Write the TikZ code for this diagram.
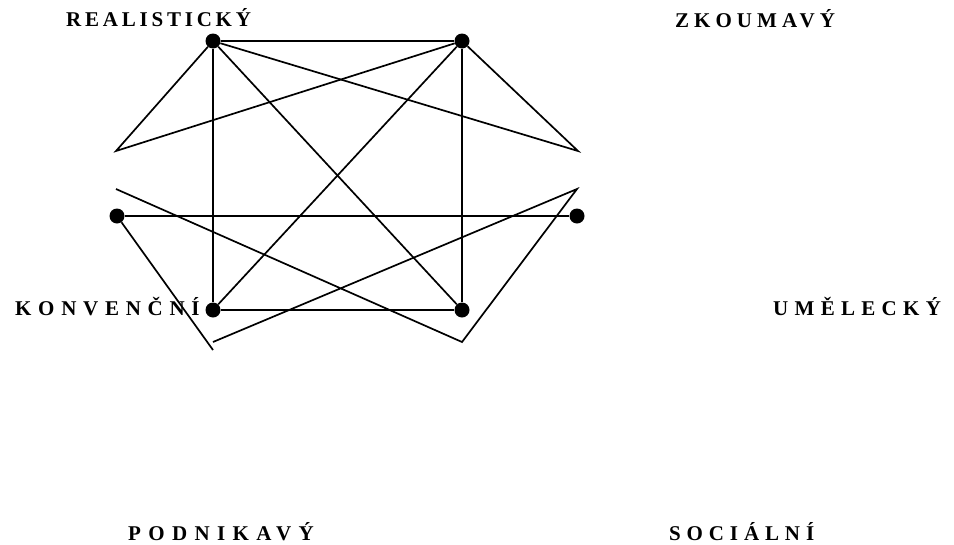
\documentclass[tikz,border=0pt]{standalone}
\usepackage{fontspec}
\setmainfont{Liberation Serif}
\usetikzlibrary{positioning}

\begin{document}
\begin{tikzpicture}[x=1pt, y=-1pt,
    dot/.style={circle, fill=black, inner sep=0pt, minimum size=15pt},
    link/.style={line width=1.7pt},
    typ/.style={font={\fontsize{21}{25}\selectfont\bfseries\addfontfeature{LetterSpace=#1}}, inner sep=0pt, anchor=base west}
]
    \useasboundingbox (0,0) rectangle (954,544);

    % personality types
    \node[typ=18] (real) at (66,26) {REALISTICKÝ};
    \node[typ=24] (zkou) at (675,27) {ZKOUMAVÝ};
    \node[typ=32] (konv) at (15,315) {KONVENČNÍ};
    \node[typ=30] (umel) at (773,315) {UMĚLECKÝ};
    \node[typ=35] (podn) at (128,540) {PODNIKAVÝ};
    \node[typ=28] (soci) at (669,540) {SOCIÁLNÍ};

    % points of the hexagon
    \node[dot] (a) at (213,41) {};
    \node[dot] (b) at (462,41) {};
    \node[dot] (l) at (117,216) {};
    \node[dot] (r) at (577,216) {};
    \node[dot] (c) at (213,310) {};
    \node[dot] (d) at (462,310) {};

    % loose ends
    \coordinate (p1) at (116,151);
    \coordinate (p2) at (578,151);
    \coordinate (p3) at (116,189);
    \coordinate (p4) at (462,342);
    \coordinate (p5) at (577,189);
    \coordinate (p6) at (213,342);
    \coordinate (p7) at (213,350);

    % box and diagonals
    \draw[link] (a) -- (b);
    \draw[link] (a) -- (c);
    \draw[link] (b) -- (d);
    \draw[link] (c) -- (d);
    \draw[link] (a) -- (d);
    \draw[link] (b) -- (c);
    \draw[link] (l) -- (r);

    % zigzags
    \draw[link] (a) -- (p1) -- (b);
    \draw[link] (b) -- (p2) -- (a);
    \draw[link] (p3) -- (p4) -- (p5) -- (p6);
    \draw[link] (l) -- (p7);

\end{tikzpicture}
\end{document}
